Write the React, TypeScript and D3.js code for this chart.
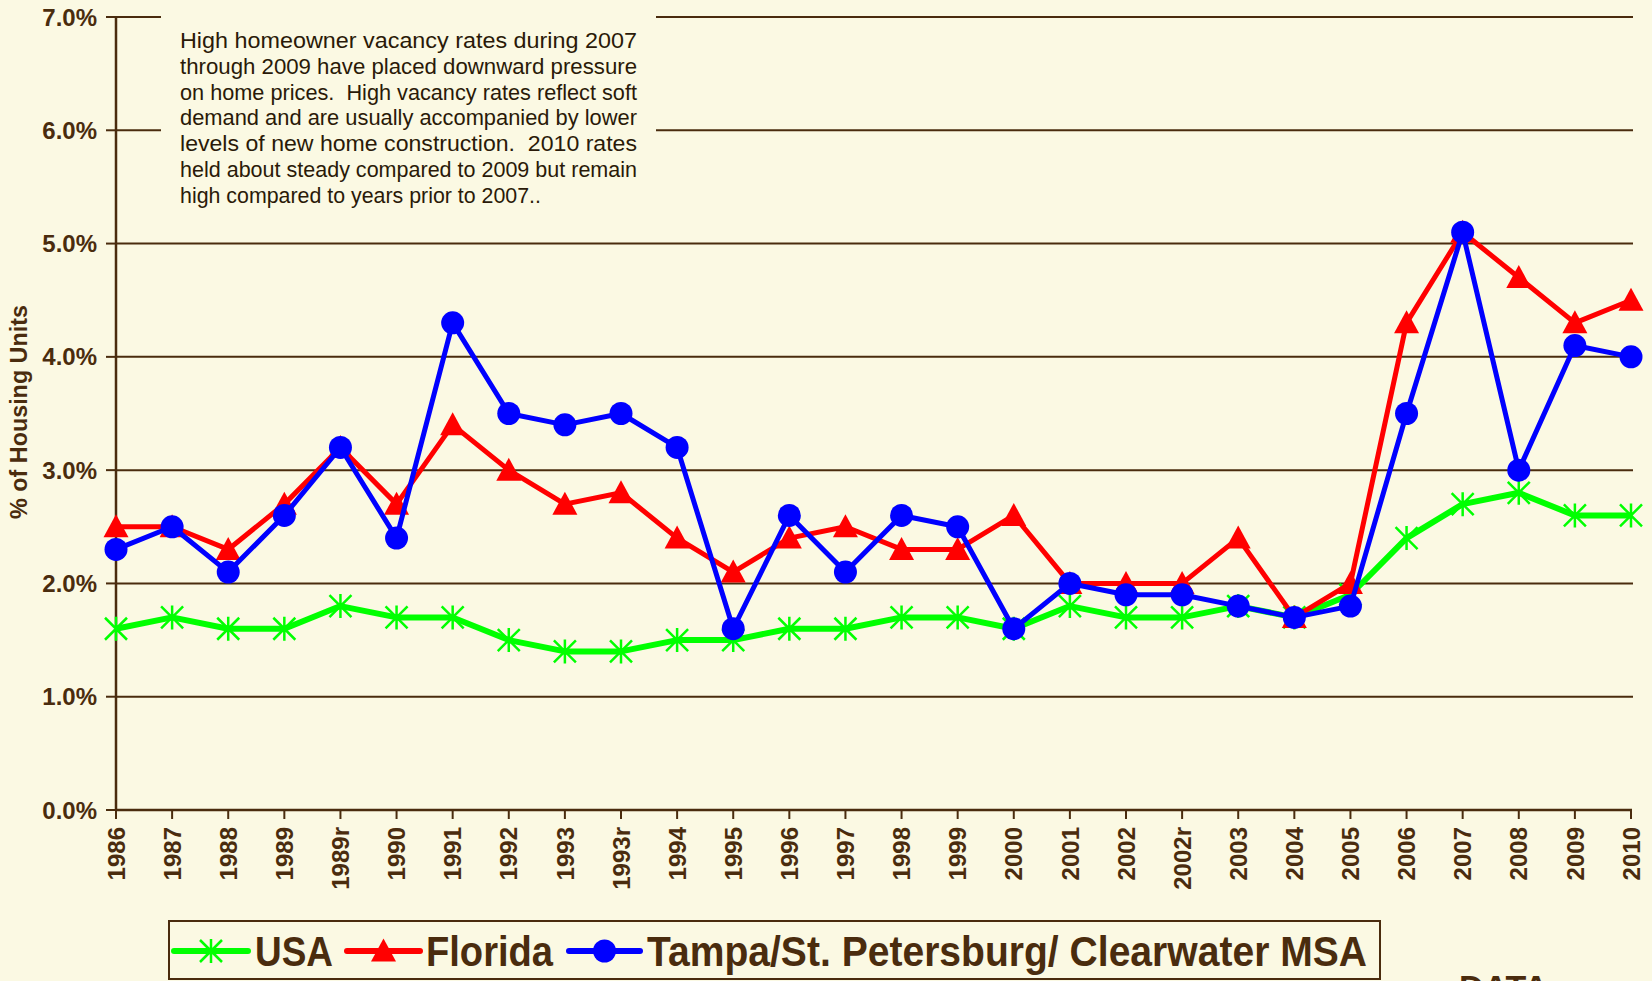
import * as d3 from 'd3';

const categories = [
  '1986', '1987', '1988', '1989', '1989r', '1990', '1991', '1992', '1993', '1993r',
  '1994', '1995', '1996', '1997', '1998', '1999', '2000', '2001', '2002', '2002r',
  '2003', '2004', '2005', '2006', '2007', '2008', '2009', '2010',
];

const usaValues = [
  1.6, 1.7, 1.6, 1.6, 1.8, 1.7, 1.7, 1.5, 1.4, 1.4,
  1.5, 1.5, 1.6, 1.6, 1.7, 1.7, 1.6, 1.8, 1.7, 1.7,
  1.8, 1.7, 1.9, 2.4, 2.7, 2.8, 2.6, 2.6,
];

const floridaValues = [
  2.5, 2.5, 2.3, 2.7, 3.2, 2.7, 3.4, 3.0, 2.7, 2.8,
  2.4, 2.1, 2.4, 2.5, 2.3, 2.3, 2.6, 2.0, 2.0, 2.0,
  2.4, 1.7, 2.0, 4.3, 5.1, 4.7, 4.3, 4.5,
];

const tampaValues = [
  2.3, 2.5, 2.1, 2.6, 3.2, 2.4, 4.3, 3.5, 3.4, 3.5,
  3.2, 1.6, 2.6, 2.1, 2.6, 2.5, 1.6, 2.0, 1.9, 1.9,
  1.8, 1.7, 1.8, 3.5, 5.1, 3.0, 4.1, 4.0,
];

const yTicks = [0, 1, 2, 3, 4, 5, 6, 7];

const noteLines = [
  'High homeowner vacancy rates during 2007',
  'through 2009 have placed downward pressure',
  'on home prices.  High vacancy rates reflect soft',
  'demand and are usually accompanied by lower',
  'levels of new home construction.  2010 rates',
  'held about steady compared to 2009 but remain',
  'high compared to years prior to 2007..',
];

const legendNames = ['USA', 'Florida', 'Tampa/St. Petersburg/ Clearwater MSA'];

const BG = '#FBF9E3';
const INK = '#4A2C0E';
const NARROW = '"Liberation Sans Narrow", "Arial Narrow", "Liberation Sans", Arial, sans-serif';
const BOLD = '"Liberation Sans", Arial, sans-serif';

const starPath = 'M0,-12L0,12M-11,-11L11,11M-11,11L11,-11';
const trianglePath = 'M0,-12.5L12.5,10.5L-12.5,10.5Z';

type Kind = 'star' | 'triangle' | 'circle';

const Marker = ({ kind, cx, cy, color }: { kind: Kind; cx: number; cy: number; color: string }) => {
  if (kind === 'star')
    return <path d={starPath} transform={`translate(${cx},${cy})`} stroke={color} strokeWidth={2.5} fill="none" />;
  if (kind === 'triangle')
    return <path d={trianglePath} transform={`translate(${cx},${cy})`} fill={color} />;
  return <circle cx={cx} cy={cy} r={11.5} fill={color} />;
};

const App = () => {
  const width = 1652;
  const height = 981;

  const x = d3.scalePoint<string>().domain(categories).range([116, 1631]);
  const y = d3.scaleLinear().domain([0, 7]).range([810, 17]);
  const fmt = d3.format('.1%');

  const series = [
    { name: legendNames[0], values: usaValues, color: '#00FF00', kind: 'star' as Kind, lw: 6 },
    { name: legendNames[1], values: floridaValues, color: '#FF0000', kind: 'triangle' as Kind, lw: 5 },
    { name: legendNames[2], values: tampaValues, color: '#0000FF', kind: 'circle' as Kind, lw: 5 },
  ];

  const line = d3
    .line<number>()
    .x((_, i) => x(categories[i]) as number)
    .y((d) => y(d));

  const legendItems = [
    { x0: 174, x1: 248, tx: 255, tw: 78 },
    { x0: 347, x1: 420, tx: 426, tw: 127 },
    { x0: 569, x1: 640, tx: 647, tw: 720 },
  ];

  return (
    <svg width={width} height={height} style={{ position: 'absolute', left: 0, top: 0, display: 'block' }}>
      <rect x={0} y={0} width={width} height={height} fill={BG} />

      {/* gridlines */}
      {yTicks.slice(1).map((t) => (
        <line key={t} x1={116} x2={1633} y1={y(t)} y2={y(t)} stroke={INK} strokeWidth={2} />
      ))}

      {/* note box hides the grid behind it */}
      <rect x={161} y={10} width={495} height={212} fill={BG} />
      {noteLines.map((t, i) => (
        <text
          key={i}
          x={180}
          y={48 + i * 25.8}
          fontFamily={NARROW}
          fontSize={21.5}
          fill="#2a1a08"
          style={{ whiteSpace: 'pre' }}
          textLength={i < noteLines.length - 1 ? 457 : 361}
          lengthAdjust="spacingAndGlyphs"
        >
          {t}
        </text>
      ))}

      {/* y axis */}
      <line x1={116} x2={116} y1={y(7)} y2={y(0)} stroke={INK} strokeWidth={2.5} />
      {yTicks.map((t) => (
        <g key={t}>
          <line x1={106} x2={116} y1={y(t)} y2={y(t)} stroke={INK} strokeWidth={2} />
          <text
            x={97}
            y={y(t)}
            dy="0.36em"
            textAnchor="end"
            fontFamily={BOLD}
            fontWeight="bold"
            fontSize={24}
            fill={INK}
          >
            {fmt(t / 100)}
          </text>
        </g>
      ))}
      <text
        transform="translate(27,412) rotate(-90)"
        textAnchor="middle"
        fontFamily={NARROW}
        fontWeight="bold"
        fontSize={23}
        fill={INK}
        textLength={214}
        lengthAdjust="spacingAndGlyphs"
      >
        % of Housing Units
      </text>

      {/* x axis */}
      <line x1={116} x2={1632} y1={y(0)} y2={y(0)} stroke={INK} strokeWidth={2.5} />
      {categories.map((c) => (
        <g key={c}>
          <line x1={x(c)} x2={x(c)} y1={y(0)} y2={y(0) + 9} stroke={INK} strokeWidth={2} />
          <text
            transform={`translate(${x(c)},${y(0) + 17}) rotate(-90)`}
            dy="0.36em"
            textAnchor="end"
            fontFamily={BOLD}
            fontWeight="bold"
            fontSize={24}
            fill={INK}
          >
            {c}
          </text>
        </g>
      ))}

      {/* series */}
      {series.map((s) => (
        <g key={s.name}>
          <path d={line(s.values) ?? ''} fill="none" stroke={s.color} strokeWidth={s.lw} strokeLinejoin="round" />
          {s.values.map((v, i) => (
            <Marker key={i} kind={s.kind} cx={x(categories[i]) as number} cy={y(v)} color={s.color} />
          ))}
        </g>
      ))}

      {/* legend */}
      <rect x={169} y={921} width={1211} height={58} fill="none" stroke={INK} strokeWidth={2} />
      {series.map((s, i) => {
        const it = legendItems[i];
        return (
          <g key={s.name}>
            <line x1={it.x0} x2={it.x1} y1={951} y2={951} stroke={s.color} strokeWidth={6} strokeLinecap="round" />
            <Marker kind={s.kind} cx={(it.x0 + it.x1) / 2} cy={951} color={s.color} />
            <text
              x={it.tx}
              y={966}
              fontFamily={NARROW}
              fontWeight="bold"
              fontSize={42}
              fill={INK}
              textLength={it.tw}
              lengthAdjust="spacingAndGlyphs"
            >
              {s.name}
            </text>
          </g>
        );
      })}

      <text x={1459} y={999} fontFamily={BOLD} fontWeight="bold" fontSize={34} fill={INK}>
        DATA
      </text>
    </svg>
  );
};

export default App;
